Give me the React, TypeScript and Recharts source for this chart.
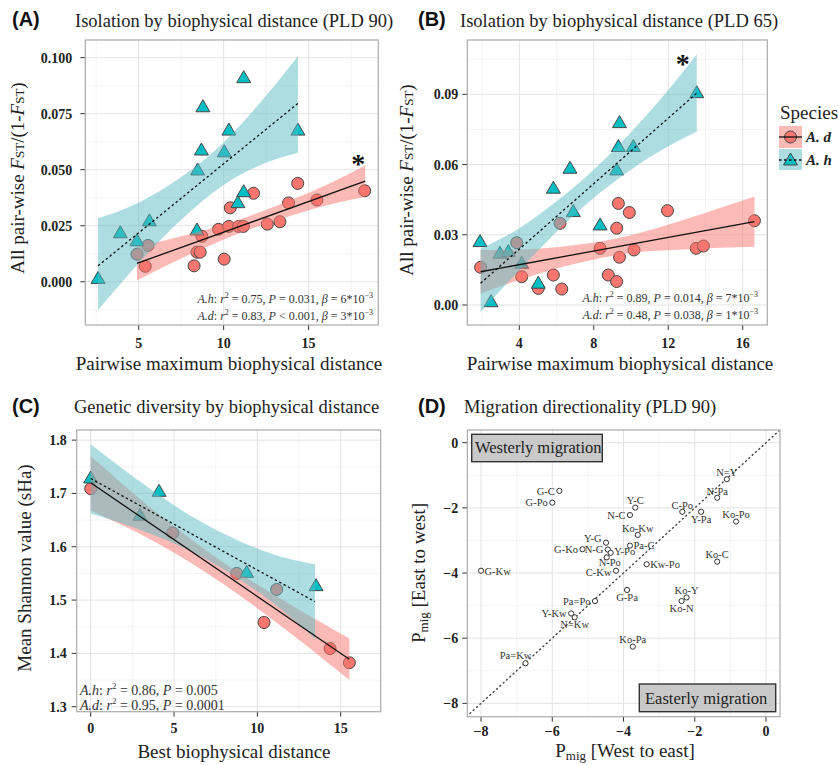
import React from "react";
import { ComposedChart, Scatter, Line, Area, XAxis, YAxis, CartesianGrid } from "recharts";

// ---------- (A) isolation by biophysical distance, PLD 90 ----------
const distA_h = [2.61, 3.92, 4.9, 5.63, 8.43, 8.47, 8.69, 8.78, 10.04, 10.31, 10.84, 11.18, 11.18, 14.37];
const fstA_h = [0.0015, 0.0219, 0.0183, 0.0272, 0.0231, 0.0499, 0.0588, 0.0781, 0.058, 0.0677, 0.0353, 0.0402, 0.0911, 0.0677];
const distA_d = [4.9, 5.55, 5.39, 8.26, 8.43, 8.62, 8.72, 9.7, 10.03, 10.3, 10.39, 10.88, 11.16, 11.76, 12.57, 13.31, 13.82, 14.36, 15.49, 18.3];
const fstA_d = [0.0123, 0.0162, 0.0069, 0.0071, 0.0132, 0.0132, 0.0203, 0.0234, 0.0101, 0.0247, 0.033, 0.0247, 0.0247, 0.0395, 0.0257, 0.0268, 0.0352, 0.0439, 0.0365, 0.0406];
const fitA_hX = [2.61, 14.37];
const fitA_hY = [0.0071, 0.0796];
const fitA_dX = [4.9, 18.33];
const fitA_dY = [0.0082, 0.0449];
const ribA_hX = [2.61, 5, 7.5, 10, 12.5, 14.37];
const ribA_hLo = [-0.0126, 0.0083, 0.0277, 0.0432, 0.0531, 0.0576];
const ribA_hHi = [0.0283, 0.0353, 0.0467, 0.0622, 0.0831, 0.1007];
const ribA_dX = [4.9, 8, 11, 14, 16.5, 18.33];
const ribA_dLo = [0.0007, 0.0122, 0.0219, 0.0296, 0.0349, 0.0379];
const ribA_dHi = [0.0157, 0.0212, 0.0279, 0.0366, 0.0449, 0.0519];

// ---------- (B) isolation by biophysical distance, PLD 65 ----------
const distB_h = [1.89, 2.48, 2.96, 3.41, 4.13, 5.02, 5.83, 6.72, 6.9, 8.34, 9.23, 9.32, 9.38, 10.13, 13.53];
const fstB_h = [0.0271, 0.0014, 0.0221, 0.0228, 0.0178, 0.0093, 0.0499, 0.0584, 0.0399, 0.0342, 0.0577, 0.0677, 0.0779, 0.0677, 0.0907];
const distB_d = [1.92, 3.86, 4.13, 5.02, 5.83, 6.19, 6.28, 8.34, 8.78, 9.23, 9.23, 9.32, 9.38, 9.91, 10.16, 11.96, 13.5, 13.89, 16.63];
const fstB_d = [0.0161, 0.0266, 0.0121, 0.0071, 0.0128, 0.0349, 0.0068, 0.0242, 0.0128, 0.0328, 0.01, 0.0434, 0.0204, 0.0395, 0.0235, 0.0403, 0.0242, 0.0252, 0.036];
const fitB_hX = [1.92, 13.53];
const fitB_hY = [0.0093, 0.0905];
const fitB_dX = [1.92, 16.63];
const fitB_dY = [0.0142, 0.0356];
const ribB_hX = [1.92, 4, 6, 8, 10, 12, 13.53];
const ribB_hLo = [-0.003, 0.0148, 0.0313, 0.0458, 0.0578, 0.0678, 0.074];
const ribB_hHi = [0.024, 0.0328, 0.0443, 0.0578, 0.0738, 0.0918, 0.107];
const ribB_dX = [1.92, 4, 7, 10, 13, 16.63];
const ribB_dLo = [0.0049, 0.0107, 0.0176, 0.0222, 0.0238, 0.0249];
const ribB_dHi = [0.0235, 0.0237, 0.0256, 0.0298, 0.0368, 0.0463];

// ---------- (C) genetic diversity by biophysical distance ----------
const distC_h = [0, 2.96, 4.1, 9.36, 13.52];
const shanC_h = [1.729, 1.659, 1.704, 1.552, 1.527];
const distC_d = [0, 4.92, 8.76, 10.4, 11.16, 14.36, 15.52];
const shanC_d = [1.709, 1.626, 1.55, 1.458, 1.52, 1.409, 1.3825];
const fitC_hX = [0, 13.46];
const fitC_hY = [1.728, 1.497];
const fitC_dX = [0, 15.52];
const fitC_dY = [1.72, 1.389];
const ribC_hX = [0, 3, 6, 9, 11.5, 13.46];
const ribC_hLo = [1.6625, 1.6315, 1.592, 1.5376, 1.4807, 1.427];
const ribC_hHi = [1.7925, 1.7215, 1.658, 1.6096, 1.5807, 1.567];
const ribC_dX = [0, 4, 8, 12, 15.52];
const ribC_dLo = [1.668, 1.6067, 1.5294, 1.4371, 1.35];
const ribC_dHi = [1.77, 1.6627, 1.5694, 1.4911, 1.428];

// ---------- (D) migration directionality, PLD 90 ----------
const pairNames = ["N=Y", "N-Pa", "G-C", "G-Po", "Y-C", "N-C", "C-Po", "Y-Pa", "Ko-Po", "Ko-Kw", "Pa-C", "Y-G", "G-Ko", "N-G", "Y-Po", "N-Po", "Kw-Po", "Ko-C", "G-Kw", "C-Kw", "G-Pa", "Ko-Y", "Ko-N", "Pa=Po", "Y-Kw", "N=Kw", "Ko-Pa", "Pa=Kw"];
const westToEast = [-1.1, -1.37, -5.8, -6.0, -3.67, -3.82, -2.35, -1.82, -0.84, -3.6, -3.82, -4.49, -5.15, -4.44, -4.36, -4.47, -3.35, -1.37, -8.0, -4.21, -3.9, -2.23, -2.37, -4.8, -5.47, -5.37, -3.74, -6.75];
const eastToWest = [-1.12, -1.69, -1.48, -1.84, -1.99, -2.22, -2.12, -2.12, -2.42, -2.83, -3.16, -3.07, -3.27, -3.28, -3.38, -3.52, -3.73, -3.65, -3.93, -3.93, -4.52, -4.75, -4.86, -4.86, -5.24, -5.36, -6.26, -6.77];
const diagonal = [-8.31, 0.37];

// where each pair label sits relative to its point
const labelSide: Record<string, string> = {
  "N=Y": "top", "N-Pa": "top", "G-C": "left", "G-Po": "left", "Y-C": "top", "N-C": "left",
  "C-Po": "top", "Y-Pa": "bottom", "Ko-Po": "top", "Ko-Kw": "top", "Pa-C": "right", "Y-G": "leftup",
  "G-Ko": "left", "N-G": "left", "Y-Po": "rightup", "N-Po": "under", "Kw-Po": "right", "Ko-C": "top",
  "G-Kw": "right", "C-Kw": "leftdown", "G-Pa": "bottom", "Ko-Y": "top", "Ko-N": "bottom", "Pa=Po": "left",
  "Y-Kw": "left", "N=Kw": "bottom", "Ko-Pa": "top", "Pa=Kw": "topleft",
};

const SERIF = '"Liberation Serif", "Times New Roman", serif';
const SANS = '"Liberation Sans", Arial, sans-serif';
const RED = "#F8766D";
const TEAL = "#00BFC4";
const TEAL_BAND = "#5BBCC4";

const pts = (xs: number[], ys: number[]) => xs.map((x, i) => ({ x, y: ys[i] }));
const rib = (xs: number[], lo: number[], hi: number[]) => xs.map((x, i) => ({ x, band: [lo[i], hi[i]] }));

const Y_W = 60;
const X_H = 40;

const tickStyle = { fontFamily: SERIF, fontSize: 14, fontWeight: 700, fill: "#222" };

const RedDot = (p: any) => <circle cx={p.cx} cy={p.cy} r={6} fill={RED} stroke="#474747" strokeWidth={1} />;
const TealTri = (p: any) => (
  <path d={`M${p.cx},${p.cy - 7}L${p.cx + 7},${p.cy + 5}L${p.cx - 7},${p.cy + 5}Z`} fill={TEAL} stroke="#474747" strokeWidth={1} />
);

function PairDot(p: any) {
  const name: string = p.payload?.name ?? "";
  const side = labelSide[name] ?? "right";
  let x = p.cx;
  let y = p.cy + 3.8;
  let anchor = "middle";
  if (side === "left") { x = p.cx - 4.5; anchor = "end"; }
  else if (side === "leftup") { x = p.cx - 4.5; y = p.cy - 0.8; anchor = "end"; }
  else if (side === "leftdown") { x = p.cx - 4.5; y = p.cy + 5.5; anchor = "end"; }
  else if (side === "right") { x = p.cx + 3.5; anchor = "start"; }
  else if (side === "rightup") { x = p.cx + 3.5; y = p.cy + 2; anchor = "start"; }
  else if (side === "top") { y = p.cy - 3.2; }
  else if (side === "bottom") { y = p.cy + 11; }
  else if (side === "under") { x = p.cx + 3; y = p.cy + 8.5; }
  else if (side === "topleft") { x = p.cx - 10; y = p.cy - 4; }
  return (
    <g>
      <circle cx={p.cx} cy={p.cy} r={2.6} fill="#fff" stroke="#333" strokeWidth={1} />
      <text x={x} y={y} textAnchor={anchor} fontFamily={SERIF} fontSize={10.5} fill="#333">{name}</text>
    </g>
  );
}

type Box = { l: number; t: number; w: number; h: number };
type Plot = { l: number; t: number; r: number; b: number };

function Panel(props: {
  box: Box; plot: Plot;
  xDomain: number[]; yDomain: number[];
  xTicks: number[]; yTicks: number[]; xMinor: number[]; yMinor: number[];
  fmtX: (v: number) => string; fmtY: (v: number) => string;
  xMargin: number; yMargin: number;
  children: React.ReactNode;
}) {
  const { box, plot } = props;
  const margin = {
    left: plot.l - box.l - Y_W,
    top: plot.t - box.t,
    right: box.l + box.w - plot.r,
    bottom: box.t + box.h - plot.b - X_H,
  };
  return (
    <div style={{ position: "absolute", left: box.l, top: box.t }}>
      <ComposedChart width={box.w} height={box.h} margin={margin}>
        <CartesianGrid horizontalValues={props.yMinor} verticalValues={props.xMinor} stroke="#f1f1f1" strokeWidth={0.8} />
        <CartesianGrid horizontalValues={props.yTicks} verticalValues={props.xTicks} stroke="#e3e3e3" strokeWidth={1} />
        <XAxis type="number" dataKey="x" domain={props.xDomain} ticks={props.xTicks} allowDataOverflow interval={0}
          height={X_H} axisLine={false} tickLine={{ stroke: "#333" }} tickSize={5} tickMargin={props.xMargin}
          tick={tickStyle} tickFormatter={props.fmtX} />
        <YAxis type="number" dataKey="y" domain={props.yDomain} ticks={props.yTicks} allowDataOverflow interval={0}
          width={Y_W} axisLine={false} tickLine={{ stroke: "#333" }} tickSize={5} tickMargin={props.yMargin}
          tick={tickStyle} tickFormatter={props.fmtY} />
        {props.children}
      </ComposedChart>
    </div>
  );
}

const minus = (v: number) => (v < 0 ? "\u2212" + Math.abs(v) : String(v));

const plotA = { l: 85.3, t: 40, r: 378.3, b: 325 };
const plotB = { l: 467.3, t: 40, r: 767.3, b: 325 };
const plotC = { l: 76.7, t: 430, r: 380.7, b: 711.7 };
const plotD = { l: 467.3, t: 430, r: 780, b: 716.7 };

function series(ptsD: any[], ptsH: any[], ribD: any[], ribH: any[], fitD: any[], fitH: any[]) {
  return [
    <Scatter key="pd" data={ptsD} shape={RedDot} isAnimationActive={false} zIndex={50} />,
    <Scatter key="ph" data={ptsH} shape={TealTri} isAnimationActive={false} zIndex={51} />,
    <Area key="rd" data={ribD} dataKey="band" type="monotone" stroke="none" fill={RED} fillOpacity={0.5}
      dot={false} activeDot={false} isAnimationActive={false} zIndex={100} />,
    <Area key="rh" data={ribH} dataKey="band" type="monotone" stroke="none" fill={TEAL_BAND} fillOpacity={0.5}
      dot={false} activeDot={false} isAnimationActive={false} zIndex={101} />,
    <Line key="fd" data={fitD} dataKey="y" type="linear" stroke="#111" strokeWidth={1.3} dot={false} activeDot={false}
      isAnimationActive={false} zIndex={400} />,
    <Line key="fh" data={fitH} dataKey="y" type="linear" stroke="#111" strokeWidth={1.3} strokeDasharray="2.5 2.5"
      dot={false} activeDot={false} isAnimationActive={false} zIndex={401} />,
  ];
}

function Stat(props: { x: number; y: number; anchor: string; size: number; sp: string; r2: string; p: string; beta?: string }) {
  const s = props.size;
  const sup = Math.round(s * 0.65);
  return (
    <text x={props.x} y={props.y} textAnchor={props.anchor} fontFamily={SERIF} fontSize={s} fill="#333">
      <tspan fontStyle="italic">{props.sp}</tspan>
      <tspan>{": "}</tspan>
      <tspan fontStyle="italic">r</tspan>
      <tspan fontSize={sup} dy={-s * 0.4}>2</tspan>
      <tspan dy={s * 0.4}>{" = " + props.r2 + ", "}</tspan>
      <tspan fontStyle="italic">P</tspan>
      <tspan>{" " + props.p}</tspan>
      {props.beta ? <tspan>{", "}</tspan> : null}
      {props.beta ? <tspan fontStyle="italic">β</tspan> : null}
      {props.beta ? <tspan>{" = " + props.beta + "*10"}</tspan> : null}
      {props.beta ? <tspan fontSize={sup} dy={-s * 0.4}>−3</tspan> : null}
    </text>
  );
}

function FstLabel(props: { x: number; y: number }) {
  return (
    <text transform={`translate(${props.x},${props.y}) rotate(-90)`} textAnchor="middle" fontFamily={SERIF} fontSize={19} fill="#222">
      <tspan>All pair-wise </tspan>
      <tspan fontStyle="italic">F</tspan>
      <tspan fontSize={13}>ST</tspan>
      <tspan>/(1-</tspan>
      <tspan fontStyle="italic">F</tspan>
      <tspan fontSize={13}>ST</tspan>
      <tspan>)</tspan>
    </text>
  );
}

function Overlay() {
  const plots = [plotA, plotB, plotC, plotD];
  const letter = { fontFamily: SANS, fontSize: 20, fontWeight: 700, fill: "#111" };
  const title = { fontFamily: SERIF, fontSize: 18.5, fill: "#222" };
  const axis = { fontFamily: SERIF, fontSize: 19, fill: "#222" };
  return (
    <svg width={839} height={765} style={{ position: "absolute", left: 0, top: 0, pointerEvents: "none" }}>
      {plots.map((p, i) => (
        <rect key={i} x={p.l} y={p.t} width={p.r - p.l} height={p.b - p.t} fill="none" stroke="#aaaaaa" strokeWidth={1.2} />
      ))}
      <text x={12} y={26} {...letter}>(A)</text>
      <text x={418} y={26} {...letter}>(B)</text>
      <text x={12} y={413} {...letter}>(C)</text>
      <text x={418} y={413} {...letter}>(D)</text>
      <text x={75} y={26.5} {...title}>Isolation by biophysical distance (PLD 90)</text>
      <text x={460} y={26.5} {...title}>Isolation by biophysical distance (PLD 65)</text>
      <text x={74} y={413} {...title}>Genetic diversity by biophysical distance</text>
      <text x={464} y={413} {...title}>Migration directionality (PLD 90)</text>

      <text x={229} y={370} textAnchor="middle" {...axis}>Pairwise maximum biophysical distance</text>
      <text x={620} y={370} textAnchor="middle" {...axis}>Pairwise maximum biophysical distance</text>
      <text x={234} y={757.5} textAnchor="middle" {...axis}>Best biophysical distance</text>
      <text x={625} y={757} textAnchor="middle" {...axis}>
        <tspan>P</tspan>
        <tspan fontSize={13} dy={3}>mig</tspan>
        <tspan dy={-3}> [West to east]</tspan>
      </text>
      <FstLabel x={24.3} y={178} />
      <FstLabel x={412.7} y={180} />
      <text transform="translate(31,568) rotate(-90)" textAnchor="middle" {...axis}>Mean Shannon value (sHa)</text>
      <text transform="translate(424.5,573) rotate(-90)" textAnchor="middle" {...axis}>
        <tspan>P</tspan>
        <tspan fontSize={13} dy={3}>mig</tspan>
        <tspan dy={-3}> [East to west]</tspan>
      </text>

      <Stat x={373} y={302.5} anchor="end" size={12} sp="A.h" r2="0.75" p="= 0.031" beta="6" />
      <Stat x={373} y={319.5} anchor="end" size={12} sp="A.d" r2="0.83" p="< 0.001" beta="3" />
      <Stat x={758} y={302} anchor="end" size={12} sp="A.h" r2="0.89" p="= 0.014" beta="7" />
      <Stat x={758} y={318.5} anchor="end" size={12} sp="A.d" r2="0.48" p="= 0.038" beta="1" />
      <Stat x={80} y={694.5} anchor="start" size={14} sp="A.h" r2="0.86" p="= 0.005" />
      <Stat x={80} y={710} anchor="start" size={14} sp="A.d" r2="0.95" p="= 0.0001" />

      <text x={358.3} y={172.5} textAnchor="middle" fontFamily={SERIF} fontSize={28} fontWeight={700} fill="#111">*</text>
      <text x={682.7} y={72.5} textAnchor="middle" fontFamily={SERIF} fontSize={28} fontWeight={700} fill="#111">*</text>

      <text x={780} y={118.5} fontFamily={SERIF} fontSize={19} fill="#222">Species</text>
      <rect x={779} y={126} width={23} height={22} fill={RED} fillOpacity={0.5} />
      <circle cx={790.5} cy={137} r={6} fill={RED} stroke="#474747" strokeWidth={1} />
      <line x1={779} x2={802} y1={137} y2={137} stroke="#111" strokeWidth={1.3} />
      <rect x={779} y={149} width={23} height={21} fill={TEAL_BAND} fillOpacity={0.5} />
      <path d="M790.5,153L797.5,165L783.5,165Z" fill={TEAL} stroke="#474747" strokeWidth={1} />
      <line x1={779} x2={802} y1={160} y2={160} stroke="#111" strokeWidth={1.3} strokeDasharray="2.5 2.5" />
      <text x={806} y={142} fontFamily={SERIF} fontSize={15} fontStyle="italic" fontWeight={700} fill="#222">A. d</text>
      <text x={806} y={165} fontFamily={SERIF} fontSize={15} fontStyle="italic" fontWeight={700} fill="#222">A. h</text>

      <rect x={471.7} y={434.3} width={130.6} height={27.4} fill="#c9c9c9" stroke="#333" strokeWidth={1.4} />
      <text x={475} y={452.5} fontFamily={SERIF} fontSize={16.5} fill="#222">Westerly migration</text>
      <rect x={639.3} y={684} width={136.4} height={27.7} fill="#c9c9c9" stroke="#333" strokeWidth={1.4} />
      <text x={645} y={703.5} fontFamily={SERIF} fontSize={16.5} fill="#222">Easterly migration</text>
    </svg>
  );
}

export default function App() {
  const pairs = pairNames.map((name, i) => ({ name, x: westToEast[i], y: eastToWest[i] }));
  return (
    <div style={{ position: "absolute", left: 0, top: 0, width: 839, height: 765, background: "#fff", overflow: "hidden" }}>
      <Panel box={{ l: 0, t: 0, w: 410, h: 380 }} plot={plotA} xDomain={[1.86, 19.1]} yDomain={[-0.0193, 0.1079]}
        xTicks={[5, 10, 15]} yTicks={[0, 0.025, 0.05, 0.075, 0.1]} xMinor={[2.5, 7.5, 12.5, 17.5]}
        yMinor={[-0.0125, 0.0125, 0.0375, 0.0625, 0.0875]} fmtX={(v) => String(v)} fmtY={(v) => v.toFixed(3)}
        xMargin={8} yMargin={8}>
        {series(pts(distA_d, fstA_d), pts(distA_h, fstA_h), rib(ribA_dX, ribA_dLo, ribA_dHi), rib(ribA_hX, ribA_hLo, ribA_hHi),
          pts(fitA_dX, fitA_dY), pts(fitA_hX, fitA_hY))}
      </Panel>
      <Panel box={{ l: 400, t: 0, w: 439, h: 380 }} plot={plotB} xDomain={[1.207, 17.32]} yDomain={[-0.00855, 0.1132]}
        xTicks={[4, 8, 12, 16]} yTicks={[0, 0.03, 0.06, 0.09]} xMinor={[2, 6, 10, 14]}
        yMinor={[0.015, 0.045, 0.075, 0.105]} fmtX={(v) => String(v)} fmtY={(v) => v.toFixed(2)}
        xMargin={8} yMargin={4}>
        {series(pts(distB_d, fstB_d), pts(distB_h, fstB_h), rib(ribB_dX, ribB_dLo, ribB_dHi), rib(ribB_hX, ribB_hLo, ribB_hHi),
          pts(fitB_dX, fitB_dY), pts(fitB_hX, fitB_hY))}
      </Panel>
      <Panel box={{ l: 0, t: 380, w: 410, h: 385 }} plot={plotC} xDomain={[-0.84, 17.4]} yDomain={[1.2906, 1.819]}
        xTicks={[0, 5, 10, 15]} yTicks={[1.3, 1.4, 1.5, 1.6, 1.7, 1.8]} xMinor={[2.5, 7.5, 12.5]}
        yMinor={[1.35, 1.45, 1.55, 1.65, 1.75]} fmtX={(v) => String(v)} fmtY={(v) => v.toFixed(1)}
        xMargin={6} yMargin={5}>
        {series(pts(distC_d, shanC_d), pts(distC_h, shanC_h), rib(ribC_dX, ribC_dLo, ribC_dHi), rib(ribC_hX, ribC_hLo, ribC_hHi),
          pts(fitC_dX, fitC_dY), pts(fitC_hX, fitC_hY))}
      </Panel>
      <Panel box={{ l: 400, t: 380, w: 439, h: 385 }} plot={plotD} xDomain={[-8.385, 0.393]} yDomain={[-8.41, 0.39]}
        xTicks={[-8, -6, -4, -2, 0]} yTicks={[-8, -6, -4, -2, 0]} xMinor={[-7, -5, -3, -1]}
        yMinor={[-7, -5, -3, -1]} fmtX={minus} fmtY={minus} xMargin={4} yMargin={4}>
        <Line data={pts(diagonal, diagonal)} dataKey="y" type="linear" stroke="#444" strokeWidth={1.4}
          strokeDasharray="1 3.5" strokeLinecap="round" dot={false} activeDot={false} isAnimationActive={false} />
        <Scatter data={pairs} shape={PairDot} isAnimationActive={false} />
      </Panel>
      <Overlay />
    </div>
  );
}
